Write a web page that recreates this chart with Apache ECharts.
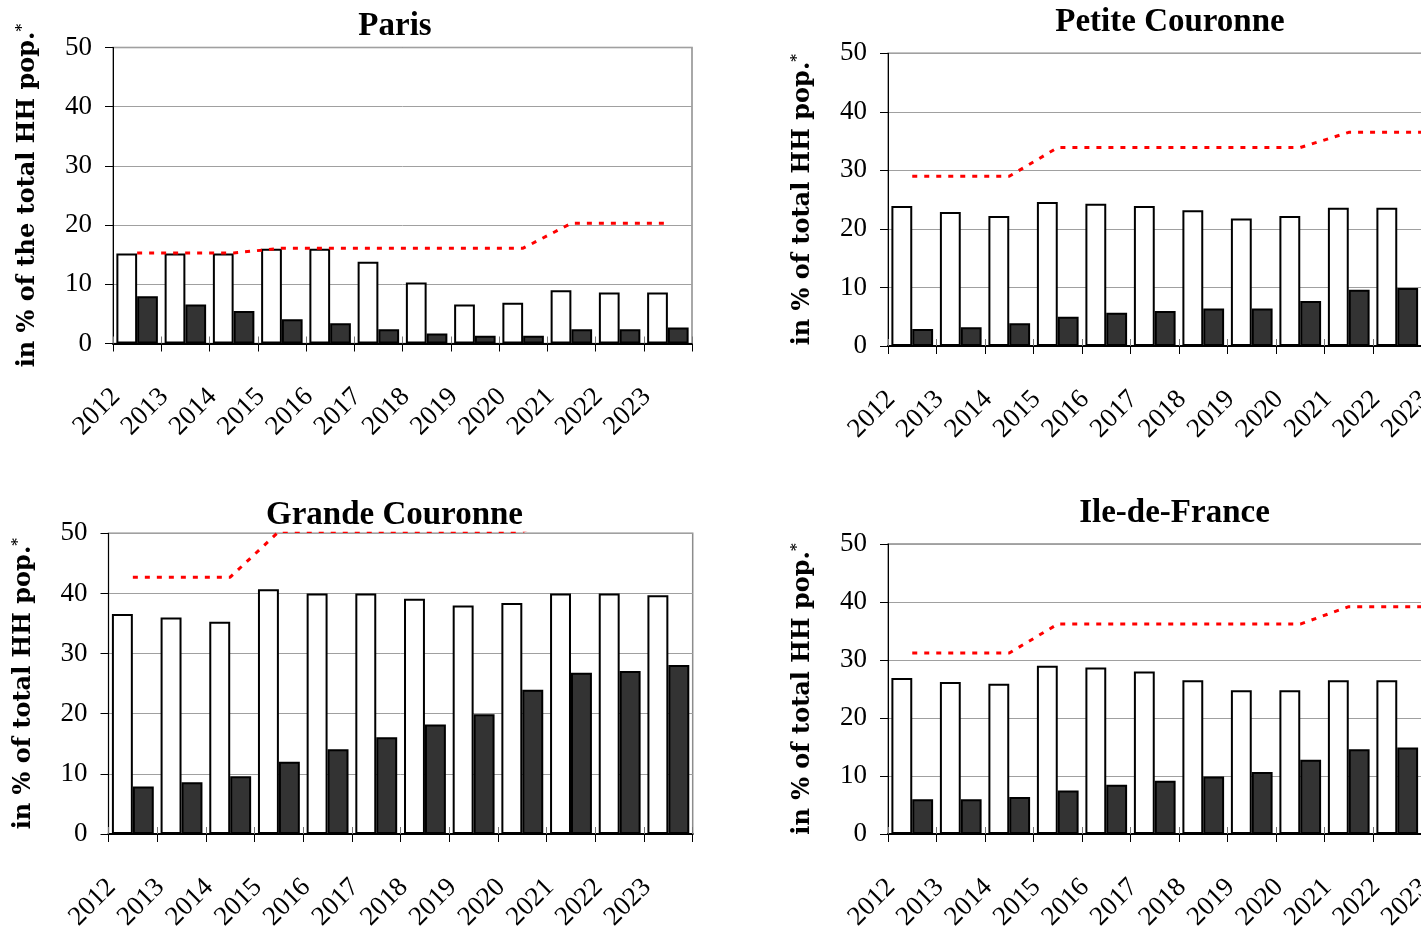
<!DOCTYPE html>
<html>
<head>
<meta charset="utf-8">
<script src="https://cdn.jsdelivr.net/npm/echarts@6/dist/echarts.min.js"></script>
<style>
html,body{margin:0;padding:0;background:#fff;overflow:hidden}
#c{width:1421px;height:928px}
</style>
</head>
<body>
<div id="c"></div>
<script>
// ---------- data ----------
const years = ['2012','2013','2014','2015','2016','2017','2018','2019','2020','2021','2022','2023'];
const yTicks = [0, 10, 20, 30, 40, 50];

const parisWhite = [15.2, 15.2, 15.2, 16.0, 16.0, 13.8, 10.3, 6.6, 6.9, 9.0, 8.6, 8.6];
const parisDark  = [8.0, 6.6, 5.5, 4.1, 3.4, 2.4, 1.7, 1.3, 1.3, 2.4, 2.4, 2.7];
const parisLine  = [15.3, 15.3, 15.3, 16.1, 16.1, 16.1, 16.1, 16.1, 16.1, 20.3, 20.3, 20.3];

const pcWhite = [23.9, 22.9, 22.2, 24.6, 24.3, 23.9, 23.2, 21.8, 22.2, 23.6, 23.6, 23.8];
const pcDark  = [2.9, 3.2, 3.9, 5.0, 5.7, 6.0, 6.4, 6.4, 7.7, 9.6, 9.9, 10.2];
const pcLine  = [29.0, 29.0, 29.0, 33.9, 33.9, 33.9, 33.9, 33.9, 33.9, 36.5, 36.5, 36.5];

const gcWhite = [36.6, 36.0, 35.3, 40.7, 40.0, 40.0, 39.1, 38.0, 38.4, 40.0, 40.0, 39.7];
const gcDark  = [7.9, 8.6, 9.6, 12.0, 14.1, 16.1, 18.2, 19.9, 24.0, 26.8, 27.1, 28.1];
const gcLine  = [42.7, 42.7, 42.7, 50.3, 50.3, 50.3, 50.3, 50.3, 50.3, 53.5, 53.5, 53.5];

const idfWhite = [26.9, 26.2, 25.9, 29.0, 28.7, 28.0, 26.5, 24.8, 24.8, 26.5, 26.5, 26.4];
const idfDark  = [6.0, 6.0, 6.4, 7.5, 8.5, 9.2, 9.9, 10.7, 12.8, 14.6, 14.9, 15.2];
const idfLine  = [31.2, 31.2, 31.2, 36.2, 36.2, 36.2, 36.2, 36.2, 36.2, 39.2, 39.2, 39.2];

const titles = ['Paris', 'Petite Couronne', 'Grande Couronne', 'Ile-de-France'];
const yNames = ['in % of the total HH pop.', 'in % of total HH pop.', 'in % of total HH pop.', 'in % of total HH pop.'];

// ---------- layout ----------
const panels = [
  {white: parisWhite, dark: parisDark, line: parisLine, grid: {left: 113, top: 47.5, width: 579, height: 296}, title: {x: 395, y: 26}},
  {white: pcWhite, dark: pcDark, line: pcLine, grid: {left: 888, top: 53.3, width: 582, height: 292.7}, title: {x: 1170, y: 22.5}},
  {white: gcWhite, dark: gcDark, line: gcLine, grid: {left: 108.5, top: 533.3, width: 584.2, height: 300.7}, title: {x: 394.5, y: 515.5}},
  {white: idfWhite, dark: idfDark, line: idfLine, grid: {left: 888, top: 544, width: 582, height: 290}, title: {x: 1174.5, y: 513.5}}
];

const serif = '"Liberation Serif", "DejaVu Serif", serif';
const grids = [], xAxes = [], yAxes = [], series = [], graphics = [];

panels.forEach((p, i) => {
  grids.push(Object.assign({
    show: true, borderColor: '#8c8c8c', borderWidth: 1.5, backgroundColor: '#fff',
    outerBoundsMode: 'none', containLabel: false
  }, p.grid));

  // main category axis
  xAxes.push({
    type: 'category', gridIndex: i, data: years, position: 'bottom',
    boundaryGap: true,
    axisLine: {show: true, onZero: false, lineStyle: {color: '#000', width: 2}},
    axisTick: {show: true, inside: false, length: 8, interval: 0, lineStyle: {color: '#000', width: 1}},
    axisLabel: {show: true, interval: 0, rotate: 45, margin: 28, padding: [0, 30, 0, 0],
      fontFamily: serif, fontSize: 27, color: '#000', hideOverlap: false},
    splitLine: {show: false}
  });
  // overlay axis for the short inner tick marks
  xAxes.push({
    type: 'category', gridIndex: i, data: years, position: 'bottom',
    axisLine: {show: false},
    axisTick: {show: true, inside: true, length: 7, interval: 0, lineStyle: {color: '#777', width: 1}},
    axisLabel: {show: false},
    splitLine: {show: false}
  });

  yAxes.push({
    type: 'value', gridIndex: i, min: yTicks[0], max: yTicks[yTicks.length - 1], interval: 10,
    axisLine: {show: true, lineStyle: {color: '#000', width: 1}},
    axisTick: {show: true, inside: false, length: 8, lineStyle: {color: '#000', width: 1}},
    axisLabel: {show: true, margin: 21, fontFamily: serif, fontSize: 27, color: '#000'},
    splitLine: {show: true, lineStyle: {color: '#a0a0a0', width: 1}},
    name: yNames[i] + '{s|*}',
    nameLocation: 'middle', nameRotate: 90, nameGap: 72, nameMoveOverlap: false,
    nameTextStyle: {
      fontFamily: '"DejaVu Serif", serif', fontWeight: 'bold', fontSize: 24, color: '#000',
      rich: {s: {fontFamily: '"DejaVu Serif", serif', fontWeight: 'bold', fontSize: 15, color: '#000', verticalAlign: 'top', lineHeight: 26}}
    }
  });

  series.push({
    type: 'bar', name: titles[i] + ' A', xAxisIndex: 2 * i, yAxisIndex: i, data: p.white,
    barGap: '0%', barCategoryGap: '14%',
    itemStyle: {color: '#ffffff', borderColor: '#000', borderWidth: 2},
    emphasis: {disabled: true}, animation: false
  });
  series.push({
    type: 'bar', name: titles[i] + ' B', xAxisIndex: 2 * i, yAxisIndex: i, data: p.dark,
    barGap: '0%', barCategoryGap: '14%',
    itemStyle: {color: '#333333', borderColor: '#000', borderWidth: 2},
    emphasis: {disabled: true}, animation: false
  });
  series.push({
    type: 'line', name: titles[i] + ' C', xAxisIndex: 2 * i, yAxisIndex: i, data: p.line,
    symbol: 'none', clip: true, z: 5,
    lineStyle: {color: '#ff0000', width: 3, type: [5, 7]},
    emphasis: {disabled: true}, animation: false
  });

  graphics.push({
    type: 'text', x: p.title.x, y: p.title.y, z: 100,
    style: {text: titles[i], font: 'bold 33px ' + serif, fill: '#000', textAlign: 'center', textVerticalAlign: 'middle'}
  });
});

const chart = echarts.init(document.getElementById('c'), null, {renderer: 'canvas'});
chart.setOption({
  backgroundColor: '#fff',
  animation: false,
  tooltip: {show: false},
  grid: grids,
  xAxis: xAxes,
  yAxis: yAxes,
  series: series,
  graphic: graphics
});
</script>
</body>
</html>
